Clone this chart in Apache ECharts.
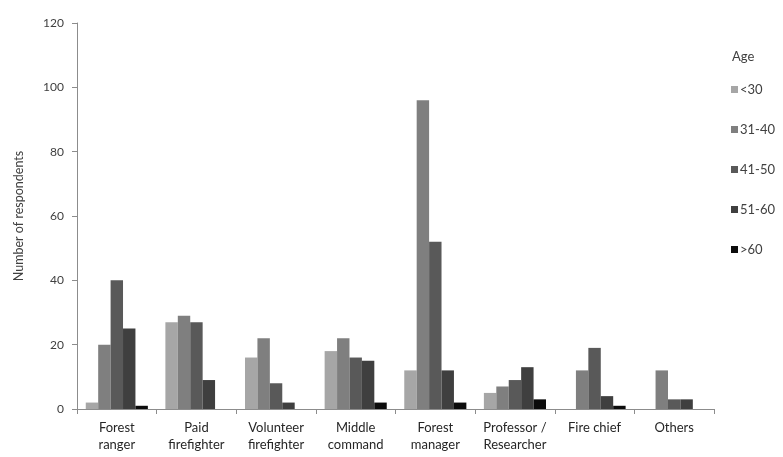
<!DOCTYPE html>
<html>
<head>
<meta charset="utf-8">
<script src="https://cdn.jsdelivr.net/npm/echarts@6/dist/echarts.min.js"></script>
<style>
  html, body { margin: 0; padding: 0; background: #fff; }
  #chart { width: 783px; height: 457px; }
</style>
</head>
<body>
<div id="chart"></div>
<script>
// Respondent roles along the x axis
const roles = [
  'Forest\nranger', 'Paid\nfirefighter', 'Volunteer\nfirefighter', 'Middle\ncommand',
  'Forest\nmanager', 'Professor /\nResearcher', 'Fire chief', 'Others'
];

// Age groups and their counts per role
const ageGroups = ['<30', '31-40', '41-50', '51-60', '>60'];
const under30   = [2, 27, 16, 18, 12, 5, 0, 0];
const age31to40 = [20, 29, 22, 22, 96, 7, 12, 12];
const age41to50 = [40, 27, 8, 16, 52, 9, 19, 3];
const age51to60 = [25, 9, 2, 15, 12, 13, 4, 3];
const over60    = [1, 0, 0, 2, 2, 3, 1, 0];

const yTicks = [0, 20, 40, 60, 80, 100, 120];

const seriesValues = [under30, age31to40, age41to50, age51to60, over60];
const seriesColors = ['#a6a6a6', '#7f7f7f', '#595959', '#3f3f3f', '#0c0c0c'];

const font = 'Lato, "Open Sans", sans-serif';
const textColor = '#404040';
const axisColor = '#8c8c8c';

const chart = echarts.init(document.getElementById('chart'));
chart.setOption({
  animation: false,
  backgroundColor: '#ffffff',
  title: {
    text: 'Age',
    left: 727,
    top: 45,
    textStyle: { fontFamily: font, fontSize: 13, fontWeight: 'normal', color: textColor }
  },
  legend: {
    orient: 'vertical',
    left: 726,
    top: 78,
    itemWidth: 7,
    itemHeight: 7,
    itemGap: 27,
    icon: 'rect',
    data: ageGroups,
    textStyle: { fontFamily: font, fontSize: 13, color: textColor, padding: [0, 0, 0, -3] }
  },
  grid: { left: 77, right: 69, top: 23, bottom: 48, containLabel: false },
  xAxis: {
    type: 'category',
    data: roles,
    axisLine: { lineStyle: { color: axisColor, width: 1 } },
    axisTick: { show: true, length: 5, lineStyle: { color: axisColor } },
    axisLabel: {
      interval: 0,
      margin: 10,
      fontFamily: font,
      fontSize: 13,
      lineHeight: 17,
      color: '#262626'
    }
  },
  yAxis: {
    type: 'value',
    min: yTicks[0],
    max: yTicks[yTicks.length - 1],
    interval: 20,
    name: 'Number of respondents',
    nameLocation: 'middle',
    nameGap: 52,
    nameTextStyle: { fontFamily: font, fontSize: 12.5, color: textColor },
    axisLine: { show: true, lineStyle: { color: axisColor, width: 1 } },
    axisTick: { show: true, length: 5, lineStyle: { color: axisColor } },
    splitLine: { show: false },
    axisLabel: { margin: 13, fontFamily: font, fontSize: 12, color: textColor }
  },
  series: ageGroups.map((name, i) => ({
    name: name,
    type: 'bar',
    data: seriesValues[i],
    barGap: '0%',
    barCategoryGap: '22%',
    itemStyle: { color: seriesColors[i] }
  }))
});
</script>
</body>
</html>
